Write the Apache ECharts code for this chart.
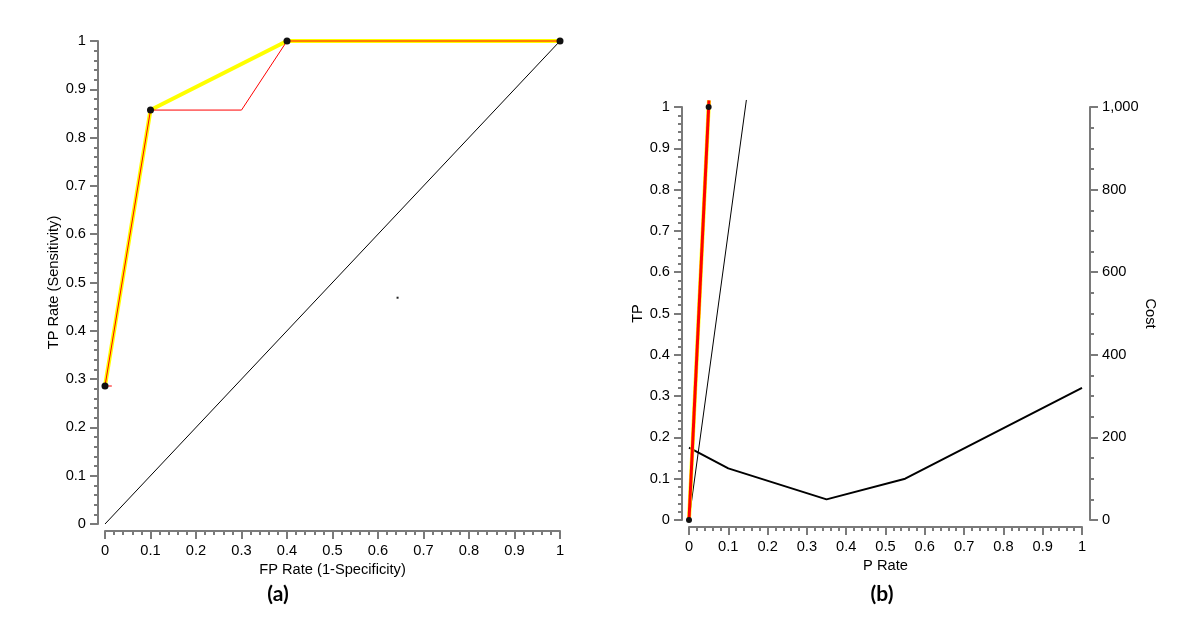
<!DOCTYPE html>
<html><head><meta charset="utf-8">
<script src="https://cdn.jsdelivr.net/npm/echarts@6/dist/echarts.min.js"></script>
<style>html,body{margin:0;padding:0;background:#fff}#c{width:1178px;height:623px}</style>
</head><body><div id="c"></div>
<script>
// ---- chart (a): ROC ----
const rocX = [0, 0.1, 0.4, 1];
const rocY = [0.2857, 0.857, 1, 1];
const stepX = [-0.011, 0.015, '-', 0, 0.1, '-', 0.093, 0.3, 0.4, '-', 0.396, 1];
const stepY = [0.2857, 0.2857, '-', 0.2857, 0.857, '-', 0.857, 0.857, 1, '-', 1, 1];
const diagX = [0, 1];
const diagY = [0, 1];
const strayX = [0.643];
const strayY = [0.4685];
const unitTicks = ['0','0.1','0.2','0.3','0.4','0.5','0.6','0.7','0.8','0.9','1'];
// ---- chart (b): cost curve ----
const pRate = [0, 0.1, 0.35, 0.55, 1];
const cost = [175, 125, 50, 100, 320];
const tpLineX = [0, 0.0508];
const tpLineY = [0, 1.016];
const tpDotX = [0, 0.05];
const tpDotY = [0, 1];
const refX = [0, 0.146];
const refY = [0, 1.017];
const costTicks = [0, 200, 400, 600, 800, 1000];

const pair = (xs, ys) => xs.map((x, i) => (x === '-' ? ['-', '-'] : [x, ys[i]]));
const GRAY = '#7a7a7a';
const FONT = "'Liberation Sans', Arial, sans-serif";
const lbl = {color: '#000', fontSize: 14.67, fontFamily: FONT};
function axisBase(extra) {
  return Object.assign({
    type: 'value', min: 0, max: 1, interval: 0.1,
    axisLine: {show: true, onZero: false, lineStyle: {color: GRAY, width: 2}},
    axisTick: {show: true, length: 8, lineStyle: {color: GRAY, width: 2}},
    minorTick: {show: true, splitNumber: 5, length: 4, lineStyle: {color: GRAY, width: 2}},
    splitLine: {show: false},
    axisLabel: Object.assign({margin: 12}, lbl),
    nameTextStyle: lbl,
    nameLocation: 'middle'
  }, extra);
}
const unitLabel = Object.assign({margin: 12, formatter: v => unitTicks[Math.round(v * 10)]}, lbl);

const chart = echarts.init(document.getElementById('c'), null, {renderer: 'canvas'});
chart.setOption({
  animation: false,
  textStyle: {fontFamily: FONT},
  grid: [
    {left: 105, right: 618, top: 41, bottom: 99},
    {left: 689, right: 96, top: 107, bottom: 103}
  ],
  xAxis: [
    axisBase({gridIndex: 0, offset: 7, name: 'FP Rate (1-Specificity)', nameGap: 27, axisLabel: unitLabel}),
    axisBase({gridIndex: 1, offset: 7, name: 'P Rate', nameGap: 27, axisLabel: unitLabel})
  ],
  yAxis: [
    axisBase({gridIndex: 0, offset: 7, name: 'TP Rate (Sensitivity)', nameGap: 34, axisLabel: unitLabel}),
    axisBase({gridIndex: 1, offset: 7, name: 'TP', nameGap: 35, axisLabel: unitLabel}),
    axisBase({gridIndex: 1, position: 'right', offset: 8, min: costTicks[0], max: costTicks[costTicks.length - 1],
      interval: 200, name: 'Cost', nameGap: 50, nameRotate: -90,
      minorTick: {show: true, splitNumber: 4, length: 4, lineStyle: {color: GRAY, width: 2}}})
  ],
  series: [
    {type: 'line', xAxisIndex: 0, yAxisIndex: 0, data: pair(diagX, diagY), symbol: 'none',
      lineStyle: {color: '#000', width: 1}},
    {type: 'line', xAxisIndex: 0, yAxisIndex: 0, data: pair(rocX, rocY), symbol: 'none',
      lineStyle: {color: '#ffff00', width: 4}},
    {type: 'line', xAxisIndex: 0, yAxisIndex: 0, data: pair(stepX, stepY), symbol: 'none', clip: false,
      connectNulls: false, lineStyle: {color: '#ff0000', width: 1}},
    {type: 'scatter', xAxisIndex: 0, yAxisIndex: 0, data: pair(rocX, rocY), symbol: 'circle', symbolSize: 7,
      itemStyle: {color: '#111', opacity: 1}, clip: false, z: 10},
    {type: 'scatter', xAxisIndex: 0, yAxisIndex: 0, data: pair(strayX, strayY), symbol: 'rect', symbolSize: 2,
      itemStyle: {color: '#222', opacity: 1}, z: 10},

    {type: 'line', xAxisIndex: 1, yAxisIndex: 2, data: pair(pRate, cost), symbol: 'none',
      lineStyle: {color: '#000', width: 2}},
    {type: 'line', xAxisIndex: 1, yAxisIndex: 1, data: pair(refX, refY), symbol: 'none', clip: false,
      lineStyle: {color: '#000', width: 1}},
    {type: 'line', xAxisIndex: 1, yAxisIndex: 1, data: pair(tpLineX, tpLineY), symbol: 'none', clip: false,
      lineStyle: {color: '#ffff00', width: 4}},
    {type: 'line', xAxisIndex: 1, yAxisIndex: 1, data: pair(tpLineX, tpLineY), symbol: 'none', clip: false,
      lineStyle: {color: '#ff0000', width: 3}},
    {type: 'scatter', xAxisIndex: 1, yAxisIndex: 1, data: pair(tpDotX, tpDotY), symbol: 'circle', symbolSize: 6,
      itemStyle: {color: '#111', opacity: 1}, clip: false, z: 10}
  ],
  graphic: [
    {type: 'text', x: 278, y: 594, style: {text: '(a)', font: 'bold 21px Lato, sans-serif', fill: '#000',
      textAlign: 'center', textVerticalAlign: 'middle'}},
    {type: 'text', x: 882, y: 594, style: {text: '(b)', font: 'bold 21px Lato, sans-serif', fill: '#000',
      textAlign: 'center', textVerticalAlign: 'middle'}}
  ]
});
</script></body></html>
